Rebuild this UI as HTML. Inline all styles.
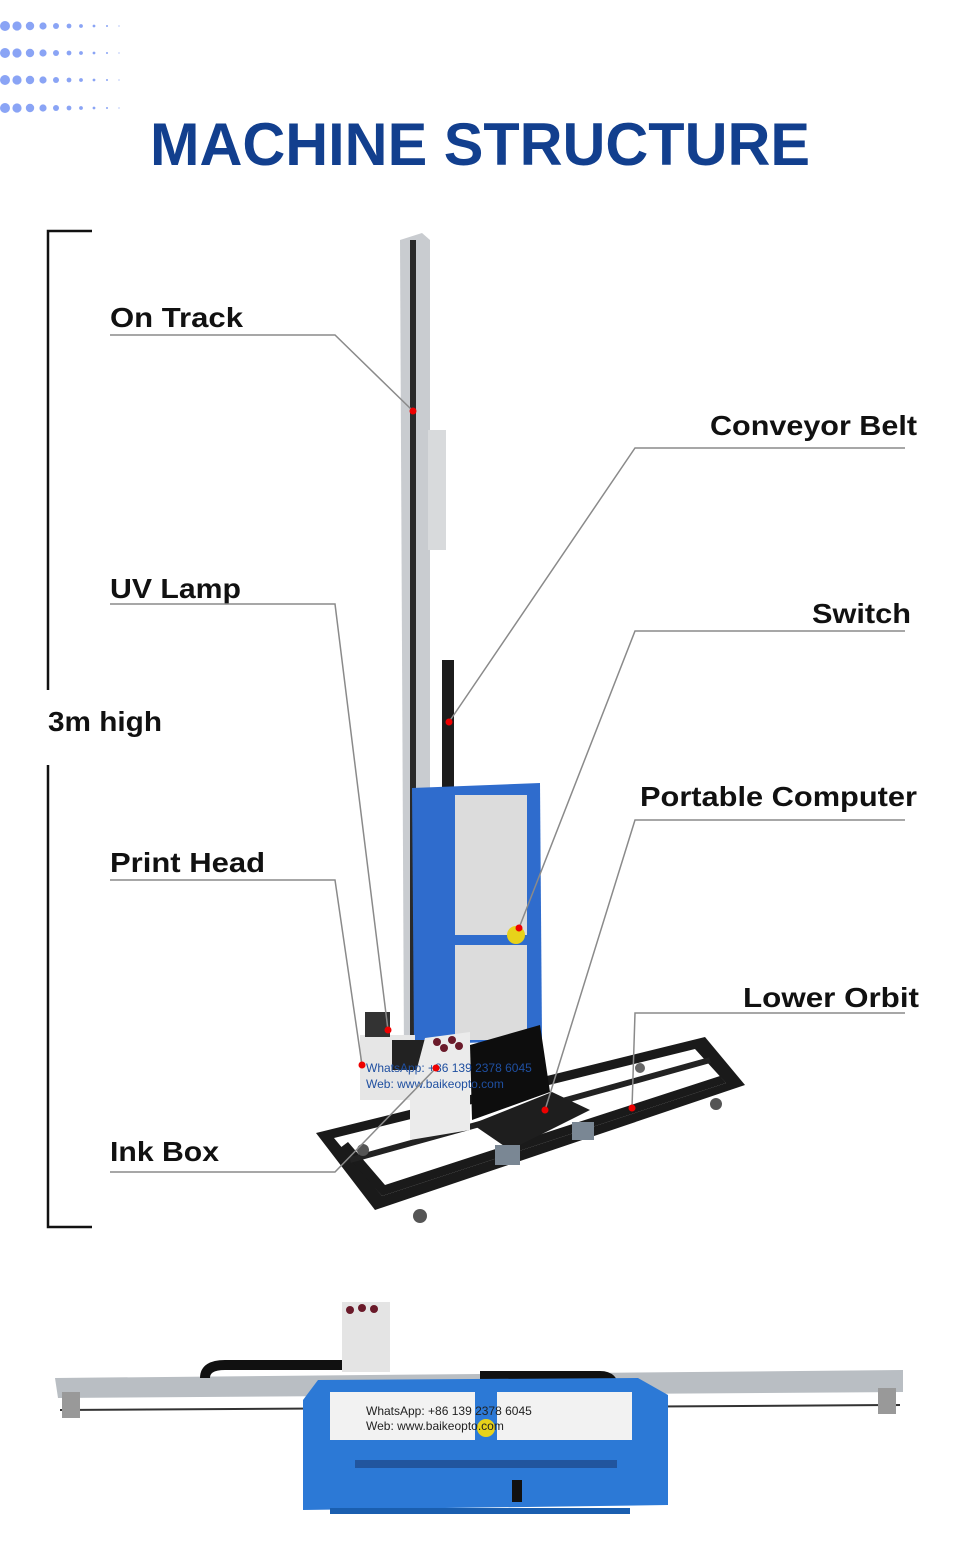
<!DOCTYPE html>
<html><head><meta charset="utf-8"><style>
html,body{margin:0;padding:0;background:#fff;}
svg{display:block}
.l{font-family:"Liberation Sans",sans-serif;font-weight:bold;font-size:28px;fill:#111}
.ln{stroke:#8a8a8a;stroke-width:1.5;fill:none}
</style></head><body>
<svg width="960" height="1552" viewBox="0 0 960 1552" xmlns="http://www.w3.org/2000/svg">
<g fill="#8aa4f5">
<g id="row">
<circle cx="5" cy="26" r="5"/><circle cx="17" cy="26" r="4.6"/><circle cx="30" cy="26" r="4.2"/><circle cx="43" cy="26" r="3.6"/><circle cx="56" cy="26" r="3"/><circle cx="69" cy="26" r="2.4"/><circle cx="81" cy="26" r="1.9"/><circle cx="94" cy="26" r="1.4"/><circle cx="107" cy="26" r="1"/><circle cx="119" cy="26" r="0.6"/>
</g>
<use href="#row" y="27"/><use href="#row" y="54"/><use href="#row" y="82"/>
</g>
<text x="480" y="165" text-anchor="middle" font-family="Liberation Sans,sans-serif" font-weight="bold" font-size="60" fill="#123f8e" textLength="660" lengthAdjust="spacingAndGlyphs">MACHINE STRUCTURE</text>

<g stroke="#111" stroke-width="2.5" fill="none">
<polyline points="92,231 48,231 48,690"/>
<polyline points="48,765 48,1227 92,1227"/>
</g>
<text class="l" x="48" y="731" textLength="114" lengthAdjust="spacingAndGlyphs">3m high</text>

<polygon points="316,1133 375,1210 745,1085 705,1037" fill="#1a1a1a"/>
<polygon points="334,1138 382,1196 726,1083 695,1049" fill="#fff"/>
<polygon points="340,1148 382,1196 726,1083 720,1076 385,1185 348,1142" fill="#1a1a1a"/>
<line x1="350" y1="1160" x2="710" y2="1060" stroke="#222" stroke-width="6"/>
<circle cx="420" cy="1216" r="7" fill="#555"/><circle cx="363" cy="1150" r="6" fill="#555"/><circle cx="716" cy="1104" r="6" fill="#555"/><circle cx="640" cy="1068" r="5" fill="#666"/>

<polygon points="400,240 422,233 430,240 430,1060 404,1060" fill="#c9ccd0"/>
<rect x="410" y="240" width="6" height="820" fill="#2a2a2a"/>
<rect x="428" y="430" width="18" height="120" fill="#d8dadc"/>
<rect x="442" y="660" width="12" height="380" fill="#1c1c1c"/>
<polygon points="412,788 540,783 542,1040 414,1045" fill="#2f6ccd"/>
<rect x="455" y="795" width="72" height="140" fill="#dcdcdc"/>
<rect x="455" y="945" width="72" height="95" fill="#dcdcdc"/>
<circle cx="516" cy="935" r="9" fill="#e8d21a"/>
<rect x="360" y="1035" width="55" height="65" fill="#e6e6e6"/>
<rect x="365" y="1012" width="25" height="25" fill="#333"/>
<rect x="392" y="1040" width="40" height="30" fill="#222"/>
<polygon points="425,1038 470,1032 470,1130 410,1140 410,1095" fill="#ebebeb"/>
<circle cx="437" cy="1042" r="4" fill="#6a1a2a"/><circle cx="452" cy="1040" r="4" fill="#6a1a2a"/><circle cx="444" cy="1048" r="4" fill="#6a1a2a"/><circle cx="459" cy="1046" r="4" fill="#6a1a2a"/>
<polygon points="470,1045 540,1025 550,1092 472,1120" fill="#0d0d0d"/>
<polygon points="472,1124 552,1092 590,1110 510,1150" fill="#1e1e1e"/>
<rect x="495" y="1145" width="25" height="20" fill="#7a8794"/><rect x="572" y="1122" width="22" height="18" fill="#7a8794"/>
<text x="366" y="1072" font-family="Liberation Sans,sans-serif" font-size="12" fill="#1f4fa0">WhatsApp: +86 139 2378 6045</text>
<text x="366" y="1088" font-family="Liberation Sans,sans-serif" font-size="12" fill="#1f4fa0">Web: www.baikeopto.com</text>

<text class="l" x="110" y="327" textLength="133" lengthAdjust="spacingAndGlyphs">On Track</text>
<polyline class="ln" points="110,335 335,335 413,411"/>
<text class="l" x="710" y="435" textLength="207" lengthAdjust="spacingAndGlyphs">Conveyor Belt</text>
<polyline class="ln" points="905,448 635,448 449,722"/>
<text class="l" x="110" y="598" textLength="131" lengthAdjust="spacingAndGlyphs">UV Lamp</text>
<polyline class="ln" points="110,604 335,604 388,1030"/>
<text class="l" x="812" y="623" textLength="99" lengthAdjust="spacingAndGlyphs">Switch</text>
<polyline class="ln" points="905,631 635,631 519,928"/>
<text class="l" x="640" y="806" textLength="277" lengthAdjust="spacingAndGlyphs">Portable Computer</text>
<polyline class="ln" points="905,820 635,820 545,1110"/>
<text class="l" x="110" y="872" textLength="155" lengthAdjust="spacingAndGlyphs">Print Head</text>
<polyline class="ln" points="110,880 335,880 362,1065"/>
<text class="l" x="743" y="1007" textLength="176" lengthAdjust="spacingAndGlyphs">Lower Orbit</text>
<polyline class="ln" points="905,1013 635,1013 632,1108"/>
<text class="l" x="110" y="1161" textLength="109" lengthAdjust="spacingAndGlyphs">Ink Box</text>
<polyline class="ln" points="110,1172 335,1172 436,1068"/>
<g fill="#e00">
<circle cx="413" cy="411" r="3.5"/><circle cx="449" cy="722" r="3.5"/><circle cx="388" cy="1030" r="3.5"/><circle cx="519" cy="928" r="3.5"/><circle cx="545" cy="1110" r="3.5"/><circle cx="362" cy="1065" r="3.5"/><circle cx="632" cy="1108" r="3.5"/><circle cx="436" cy="1068" r="3.5"/>
</g>

<polygon points="55,1378 903,1370 903,1392 58,1398" fill="#b9bec3"/>
<line x1="60" y1="1410" x2="900" y2="1405" stroke="#333" stroke-width="2"/>
<rect x="62" y="1392" width="18" height="26" fill="#999"/><rect x="878" y="1388" width="18" height="26" fill="#999"/>
<path d="M205,1378 Q205,1365 225,1365 L350,1365" stroke="#111" stroke-width="10" fill="none"/>
<path d="M480,1375 L600,1375 Q615,1375 615,1390" stroke="#111" stroke-width="8" fill="none"/>
<rect x="342" y="1302" width="48" height="70" fill="#e4e4e4"/>
<circle cx="350" cy="1310" r="4" fill="#6a1a2a"/><circle cx="362" cy="1308" r="4" fill="#6a1a2a"/><circle cx="374" cy="1309" r="4" fill="#6a1a2a"/>
<polygon points="318,1380 638,1378 668,1395 668,1505 303,1510 303,1400" fill="#2c79d6"/>
<rect x="330" y="1392" width="302" height="48" fill="#f2f2f2"/>
<rect x="475" y="1392" width="22" height="48" fill="#2c79d6"/>
<circle cx="486" cy="1428" r="9" fill="#e8d21a"/>
<rect x="355" y="1460" width="262" height="8" fill="#1a3e78" opacity="0.6"/>
<rect x="512" y="1480" width="10" height="22" fill="#111"/>
<rect x="330" y="1508" width="300" height="6" fill="#1a5fb0"/>
<text x="366" y="1415" font-family="Liberation Sans,sans-serif" font-size="12" fill="#222">WhatsApp: +86 139 2378 6045</text>
<text x="366" y="1430" font-family="Liberation Sans,sans-serif" font-size="12" fill="#222">Web: www.baikeopto.com</text>
</svg>
</body></html>
